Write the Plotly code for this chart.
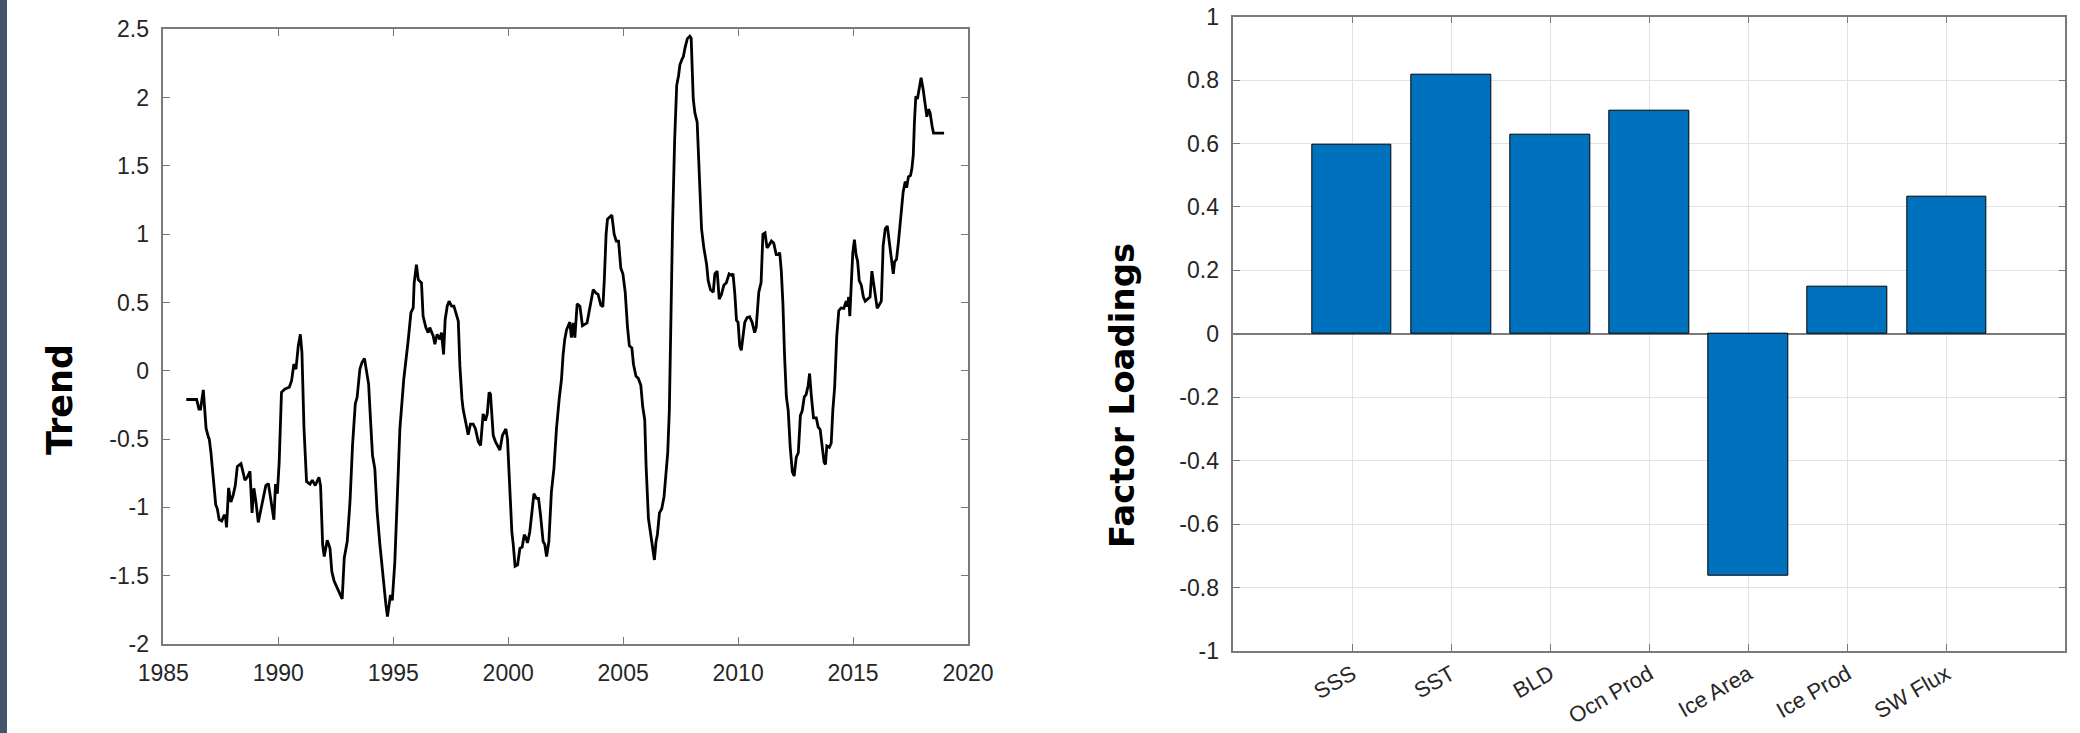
import plotly.graph_objects as go

# ---------------- data ----------------
trend_years = [
    1986.00, 1986.45, 1986.55, 1986.62, 1986.74, 1986.86, 1986.96, 1987.00, 1987.07, 1987.17,
    1987.28, 1987.35, 1987.43, 1987.54, 1987.64, 1987.70, 1987.75, 1987.84, 1987.94, 1988.04,
    1988.13, 1988.22, 1988.38, 1988.55, 1988.65, 1988.77, 1988.86, 1988.94, 1989.03, 1989.13,
    1989.25, 1989.35, 1989.46, 1989.57, 1989.71, 1989.81, 1989.88, 1989.96, 1990.04, 1990.14,
    1990.29, 1990.48, 1990.58, 1990.68, 1990.77, 1990.87, 1990.96, 1991.03, 1991.12, 1991.23,
    1991.38, 1991.48, 1991.61, 1991.77, 1991.84, 1991.93, 1992.00, 1992.13, 1992.25, 1992.33,
    1992.43, 1992.57, 1992.68, 1992.78, 1992.87, 1993.00, 1993.12, 1993.23, 1993.35, 1993.43,
    1993.55, 1993.64, 1993.75, 1993.84, 1993.93, 1994.01, 1994.10, 1994.20, 1994.30, 1994.42,
    1994.57, 1994.68, 1994.75, 1994.88, 1994.96, 1995.07, 1995.17, 1995.29, 1995.46, 1995.55,
    1995.65, 1995.77, 1995.87, 1995.91, 1996.01, 1996.09, 1996.23, 1996.30, 1996.42, 1996.52,
    1996.59, 1996.74, 1996.81, 1996.91, 1997.03, 1997.10, 1997.19, 1997.26, 1997.35, 1997.43,
    1997.54, 1997.64, 1997.72, 1997.83, 1997.90, 1997.93, 1997.99, 1998.04, 1998.16, 1998.26,
    1998.36, 1998.48, 1998.58, 1998.70, 1998.80, 1998.91, 1999.01, 1999.09, 1999.17, 1999.23,
    1999.35, 1999.45, 1999.57, 1999.64, 1999.75, 1999.90, 1999.97, 2000.07, 2000.16, 2000.22,
    2000.30, 2000.41, 2000.51, 2000.61, 2000.70, 2000.77, 2000.84, 2000.94, 2001.03, 2001.12,
    2001.23, 2001.32, 2001.41, 2001.52, 2001.59, 2001.67, 2001.77, 2001.88, 2001.99, 2002.10,
    2002.22, 2002.32, 2002.39, 2002.46, 2002.54, 2002.68, 2002.75, 2002.83, 2002.90, 2003.00,
    2003.12, 2003.23, 2003.33, 2003.43, 2003.55, 2003.70, 2003.81, 2003.91, 2004.03, 2004.12,
    2004.18, 2004.26, 2004.32, 2004.44, 2004.51, 2004.61, 2004.70, 2004.80, 2004.90, 2004.99,
    2005.09, 2005.19, 2005.27, 2005.38, 2005.45, 2005.56, 2005.66, 2005.77, 2005.85, 2005.94,
    2006.00, 2006.10, 2006.20, 2006.29, 2006.36, 2006.43, 2006.49, 2006.58, 2006.68, 2006.78,
    2006.85, 2006.94, 2007.01, 2007.07, 2007.15, 2007.24, 2007.33, 2007.41, 2007.47, 2007.56,
    2007.62, 2007.70, 2007.79, 2007.90, 2007.96, 2008.05, 2008.12, 2008.22, 2008.31, 2008.41,
    2008.51, 2008.63, 2008.70, 2008.80, 2008.92, 2008.99, 2009.09, 2009.18, 2009.28, 2009.38,
    2009.49, 2009.61, 2009.71, 2009.78, 2009.86, 2009.93, 2010.00, 2010.07, 2010.14, 2010.22,
    2010.29, 2010.39, 2010.50, 2010.61, 2010.72, 2010.79, 2010.90, 2011.00, 2011.08, 2011.17,
    2011.26, 2011.34, 2011.45, 2011.55, 2011.66, 2011.75, 2011.81, 2011.88, 2011.95, 2012.02,
    2012.10, 2012.18, 2012.27, 2012.36, 2012.44, 2012.53, 2012.62, 2012.71, 2012.79, 2012.88,
    2012.96, 2013.05, 2013.11, 2013.19, 2013.28, 2013.40, 2013.48, 2013.57, 2013.66, 2013.74,
    2013.80, 2013.86, 2013.97, 2014.05, 2014.12, 2014.20, 2014.29, 2014.38, 2014.48, 2014.60,
    2014.70, 2014.75, 2014.81, 2014.86, 2014.93, 2014.99, 2015.06, 2015.13, 2015.20, 2015.27,
    2015.36, 2015.45, 2015.53, 2015.64, 2015.74, 2015.82, 2015.91, 2015.97, 2016.05, 2016.14,
    2016.23, 2016.31, 2016.40, 2016.49, 2016.58, 2016.66, 2016.75, 2016.81, 2016.89, 2016.97,
    2017.05, 2017.12, 2017.18, 2017.27, 2017.33, 2017.41, 2017.50, 2017.56, 2017.62, 2017.67,
    2017.73, 2017.80, 2017.88, 2017.96, 2018.05, 2018.13, 2018.21, 2018.28, 2018.35, 2018.44,
    2018.50, 2018.96,
]
trend_values = [
    -0.21, -0.21, -0.28, -0.28, -0.14, -0.42, -0.485, -0.50, -0.595, -0.81,
    -0.98, -1.01, -1.09, -1.10, -1.06, -1.06, -1.146, -0.857, -0.96, -0.91,
    -0.84, -0.70, -0.68, -0.80, -0.78, -0.735, -1.04, -0.86, -0.96, -1.11,
    -1.01, -0.91, -0.84, -0.825, -0.98, -1.09, -0.83, -0.90, -0.67, -0.158,
    -0.133, -0.12, -0.073, 0.05, 0.012, 0.182, 0.267, 0.133, -0.425, -0.81,
    -0.83, -0.80, -0.84, -0.78, -0.84, -1.27, -1.36, -1.24, -1.30, -1.47,
    -1.54, -1.59, -1.64, -1.67, -1.37, -1.25, -0.96, -0.546, -0.243, -0.194,
    0.012, 0.06, 0.09, -0.012, -0.097, -0.35, -0.62, -0.716, -1.03, -1.27,
    -1.54, -1.71, -1.80, -1.64, -1.68, -1.40, -0.96, -0.425, -0.06, 0.06,
    0.22, 0.425, 0.46, 0.64, 0.777, 0.667, 0.643, 0.40, 0.316, 0.28,
    0.316, 0.255, 0.194, 0.267, 0.23, 0.28, 0.12, 0.376, 0.473, 0.51,
    0.473, 0.473, 0.425, 0.364, 0.036, -0.08, -0.206, -0.28, -0.40, -0.468,
    -0.39, -0.39, -0.425, -0.52, -0.546, -0.316, -0.364, -0.316, -0.158, -0.17,
    -0.473, -0.52, -0.558, -0.58, -0.473, -0.425, -0.50, -0.86, -1.18, -1.27,
    -1.43, -1.42, -1.30, -1.29, -1.20, -1.22, -1.26, -1.18, -1.06, -0.90,
    -0.934, -0.934, -1.06, -1.25, -1.27, -1.36, -1.25, -0.886, -0.716, -0.425,
    -0.206, -0.06, 0.12, 0.23, 0.30, 0.357, 0.243, 0.35, 0.243, 0.49,
    0.473, 0.33, 0.34, 0.35, 0.46, 0.595, 0.57, 0.56, 0.48, 0.47,
    0.66, 1.0, 1.11, 1.13, 1.14, 1.0, 0.95, 0.95, 0.75, 0.71,
    0.576, 0.32, 0.184, 0.167, 0.048, -0.04, -0.055, -0.106, -0.26, -0.36,
    -0.70, -1.08, -1.21, -1.32, -1.385, -1.25, -1.20, -1.04, -1.01, -0.92,
    -0.77, -0.60, -0.29, 0.32, 1.07, 1.685, 2.09, 2.16, 2.24, 2.28,
    2.30, 2.37, 2.43, 2.45, 2.435, 1.99, 1.89, 1.82, 1.41, 1.04,
    0.90, 0.78, 0.66, 0.593, 0.576, 0.71, 0.73, 0.525, 0.56, 0.627,
    0.645, 0.71, 0.70, 0.71, 0.56, 0.37, 0.355, 0.184, 0.15, 0.25,
    0.355, 0.39, 0.396, 0.355, 0.28, 0.32, 0.576, 0.645, 1.0, 1.01,
    0.90, 0.917, 0.95, 0.935, 0.85, 0.85, 0.866, 0.73, 0.49, 0.116,
    -0.19, -0.29, -0.566, -0.74, -0.77, -0.634, -0.60, -0.327, -0.293, -0.19,
    -0.174, -0.106, -0.02, -0.19, -0.344, -0.344, -0.41, -0.43, -0.566, -0.668,
    -0.686, -0.55, -0.56, -0.53, -0.29, -0.12, 0.25, 0.44, 0.46, 0.457,
    0.51, 0.47, 0.54, 0.40, 0.66, 0.866, 0.96, 0.85, 0.80, 0.66,
    0.627, 0.54, 0.51, 0.525, 0.54, 0.73, 0.627, 0.525, 0.457, 0.484,
    0.51, 0.917, 1.04, 1.06, 0.935, 0.815, 0.71, 0.80, 0.815, 0.935,
    1.07, 1.156, 1.31, 1.385, 1.34, 1.42, 1.43, 1.48, 1.58, 1.82,
    2.01, 1.99, 2.08, 2.145, 2.06, 1.96, 1.86, 1.915, 1.89, 1.79,
    1.74, 1.74,
]

categories = ["SSS", "SST", "BLD", "Ocn Prod", "Ice Area", "Ice Prod", "SW Flux"]
loadings = [0.595, 0.818, 0.629, 0.704, -0.763, 0.149, 0.432]

trend_xticks = [1985, 1990, 1995, 2000, 2005, 2010, 2015, 2020]
trend_yticks = [-2, -1.5, -1, -0.5, 0, 0.5, 1, 1.5, 2, 2.5]
trend_ytext = ["-2", "-1.5", "-1", "-0.5", "0", "0.5", "1", "1.5", "2", "2.5"]
load_yticks = [-1, -0.8, -0.6, -0.4, -0.2, 0, 0.2, 0.4, 0.6, 0.8, 1]
load_ytext = ["-1", "-0.8", "-0.6", "-0.4", "-0.2", "0", "0.2", "0.4", "0.6", "0.8", "1"]

# ---------------- figure ----------------
W, H = 2080, 733
AX = "#7a7a7a"
TICKFONT = dict(family="Liberation Sans, Arial, sans-serif", size=23, color="#262626")

fig = go.Figure()

fig.add_trace(go.Scatter(
    x=trend_years, y=trend_values, mode="lines",
    line=dict(color="black", width=2.8),
    xaxis="x", yaxis="y", showlegend=False,
))

cat_pos = list(range(1, len(categories) + 1))
fig.add_trace(go.Bar(
    x=cat_pos, y=loadings, width=0.8,
    marker=dict(color="#0072BD", line=dict(color="black", width=1)),
    xaxis="x2", yaxis="y2", showlegend=False,
))

common = dict(showline=True, linecolor=AX, linewidth=1.5, mirror="ticks",
              ticks="inside", ticklen=7, tickwidth=1, tickcolor=AX,
              automargin=False)

fig.update_layout(
    width=W, height=H, autosize=False,
    margin=dict(l=0, r=0, t=0, b=0, pad=0),
    paper_bgcolor="white", plot_bgcolor="white",
    bargap=0,
    xaxis=dict(domain=[163.3 / W, 968 / W], anchor="y", range=[1985, 2020],
               tickvals=trend_xticks, showgrid=False, zeroline=False,
               ticklabelstandoff=8, tickfont=TICKFONT, **common),
    yaxis=dict(domain=[(H - 644) / H, (H - 29.3) / H], anchor="x", range=[-2, 2.5],
               tickvals=trend_yticks, ticktext=trend_ytext, showgrid=False, zeroline=False,
               ticklabelstandoff=8, tickfont=TICKFONT, **common),
    xaxis2=dict(domain=[1233.3 / W, 2065.3 / W], anchor="y2", range=[-0.2, 8.2],
                tickvals=cat_pos, ticktext=categories, tickangle=-30, zeroline=False,
                showgrid=True, gridcolor="#e3e3e3", gridwidth=1, ticklabelstandoff=0,
                tickfont=dict(TICKFONT, size=22), **common),
    yaxis2=dict(domain=[(H - 651) / H, (H - 16.7) / H], anchor="x2", range=[-1, 1],
                tickvals=load_yticks, ticktext=load_ytext,
                showgrid=True, gridcolor="#e3e3e3", gridwidth=1, ticklabelstandoff=8,
                zeroline=True, zerolinecolor="#7a7a7a", zerolinewidth=1.5,
                tickfont=TICKFONT, **common),
    annotations=[
        dict(text="<b>Trend</b>", x=60 / W, y=(H - 400) / H, xref="paper", yref="paper",
             textangle=-90, showarrow=False, xanchor="center", yanchor="middle",
             font=dict(family="DejaVu Sans", size=35, color="black")),
        dict(text="<b>Factor Loadings</b>", x=1122 / W, y=(H - 396) / H, xref="paper",
             yref="paper", textangle=-90, showarrow=False, xanchor="center",
             yanchor="middle", font=dict(family="DejaVu Sans", size=34, color="black")),
    ],
    shapes=[
        dict(type="rect", xref="paper", yref="paper", x0=0, x1=7 / W, y0=0, y1=1,
             fillcolor="#44546a", line=dict(width=0), layer="below"),
    ],
)

fig.write_html(
    "out.html",
    config={"displayModeBar": False},
    post_script="document.body.style.margin='0';document.body.style.overflow='hidden';",
)
